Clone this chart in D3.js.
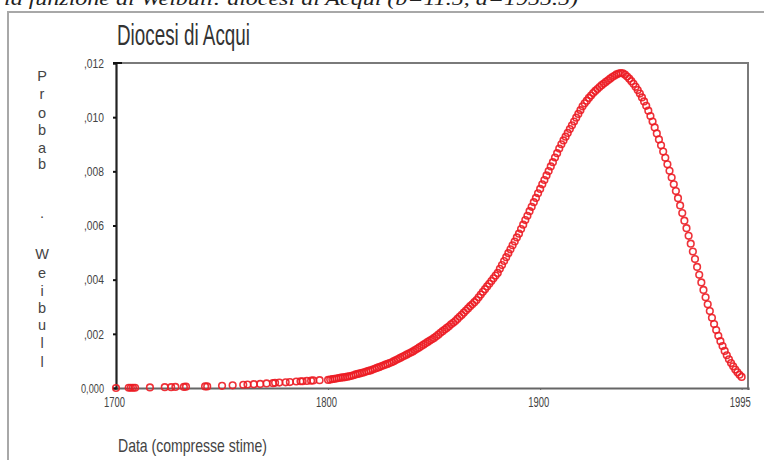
<!DOCTYPE html>
<html><head><meta charset="utf-8">
<script src="https://cdn.jsdelivr.net/npm/d3@7"></script>
<style>
html,body{margin:0;padding:0;background:#fff;}
svg{display:block;}
</style></head>
<body>
<script>
// ---- data ----
const chartTitle = "Diocesi di Acqui";
const caption = "la funzione di Weibull: diocesi di Acqui (b=11.5, a=1955.5)";
const xTitle = "Data (compresse stime)";
const yTitle = "Probab.Weibull";
const xTickValues = [1700, 1800, 1900, 1995];
const xTickLabels = ["1700", "1800", "1900", "1995"];
const yTickValues = [0, 0.002, 0.004, 0.006, 0.008, 0.010, 0.012];
const yTickLabels = ["0,000", ",002", ",004", ",006", ",008", ",010", ",012"];

const earlyYears = [1700,1706,1707,1708,1709,1716,1723,1726,1728,1732,1733,1742,1743,1750,1755,1760,1762,1765,1768,1771,1774,1775,1777,1780,1782,1785,1787,1788,1790,1792,1793,1796];
const earlyValues = [0.00000,0.00001,0.00001,0.00001,0.00001,0.00002,0.00003,0.00003,0.00004,0.00004,0.00005,0.00006,0.00006,0.00008,0.00010,0.00012,0.00013,0.00014,0.00015,0.00017,0.00018,0.00019,0.00020,0.00021,0.00022,0.00024,0.00025,0.00025,0.00026,0.00027,0.00028,0.00029];

// yearly values 1800..1995
const firstYear = 1800;
const yearlyValues = [
 0.00030,0.00031,0.00033,0.00034,0.00035,0.00037,0.00038,0.00039,0.00040,0.00042,
 0.00043,0.00045,0.00047,0.00050,0.00052,0.00054,0.00056,0.00058,0.00061,0.00063,
 0.00065,0.00068,0.00071,0.00074,0.00077,0.00080,0.00083,0.00086,0.00089,0.00092,
 0.00095,0.00099,0.00103,0.00107,0.00111,0.00115,0.00119,0.00123,0.00127,0.00131,
 0.00135,0.00140,0.00145,0.00150,0.00155,0.00160,0.00165,0.00170,0.00175,0.00180,
 0.00185,0.00191,0.00197,0.00204,0.00210,0.00216,0.00222,0.00228,0.00235,0.00241,
 0.00247,0.00255,0.00263,0.00270,0.00278,0.00286,0.00294,0.00302,0.00309,0.00317,
 0.00325,0.00335,0.00345,0.00355,0.00365,0.00375,0.00385,0.00395,0.00405,0.00415,
 0.00425,0.00440,0.00454,0.00469,0.00483,0.00498,0.00512,0.00527,0.00541,0.00556,
 0.00570,0.00587,0.00603,0.00620,0.00636,0.00653,0.00669,0.00686,0.00702,0.00719,
 0.00735,0.00752,0.00768,0.00785,0.00801,0.00818,0.00834,0.00851,0.00867,0.00884,
 0.00900,0.00914,0.00928,0.00942,0.00956,0.00970,0.00984,0.00998,0.01012,0.01026,
 0.01040,0.01051,0.01061,0.01071,0.01080,0.01089,0.01097,0.01104,0.01111,0.01118,
 0.01124,0.01130,0.01136,0.01142,0.01148,0.01153,0.01158,0.01161,0.01163,0.01162,
 0.01157,0.01150,0.01142,0.01133,0.01123,0.01112,0.01100,0.01087,0.01073,0.01058,
 0.01042,0.01024,0.01004,0.00984,0.00962,0.00940,0.00918,0.00896,0.00873,0.00850,
 0.00826,0.00802,0.00777,0.00752,0.00727,0.00701,0.00674,0.00646,0.00618,0.00590,
 0.00562,0.00533,0.00504,0.00476,0.00447,0.00418,0.00390,0.00362,0.00335,0.00309,
 0.00284,0.00259,0.00236,0.00214,0.00193,0.00173,0.00155,0.00137,0.00121,0.00106,
 0.00092,0.00080,0.00068,0.00058,0.00049,0.00041
];

const points = earlyYears.map((yr,i)=>({year:yr, value:earlyValues[i]}))
  .concat(yearlyValues.map((v,i)=>({year:firstYear+i, value:v})));

// ---- drawing ----
const W = 764, H = 460;
const svg = d3.select("body").append("svg").attr("width", W).attr("height", H);
const narrow = "'Liberation Sans Narrow','Liberation Sans',Arial,sans-serif";

const x = d3.scaleLinear().domain([1700, 1998]).range([116, 748]);
const y = d3.scaleLinear().domain([0, 0.012]).range([388, 63]);

// caption (cut off at top)
svg.append("text").attr("x", 4).attr("y", 5)
  .attr("font-family", "'Liberation Serif','Times New Roman',serif")
  .attr("font-style", "italic").attr("font-size", 19).attr("fill", "#222")
  .attr("textLength", 574).attr("lengthAdjust", "spacingAndGlyphs")
  .text(caption);

// outer frame
svg.append("path").attr("d", `M8,${H} V12 H${W}`)
  .attr("fill", "none").attr("stroke", "#a8a8a8").attr("stroke-width", 2);

// title
svg.append("text").attr("x", 117).attr("y", 45)
  .attr("font-family", narrow).attr("font-size", 29).attr("fill", "#333")
  .attr("textLength", 133).attr("lengthAdjust", "spacingAndGlyphs")
  .text(chartTitle);

// plot frame: top and right
svg.append("path").attr("d", `M${x(1700)},${y(0.012)} H${x(1998)} V${y(0)}`)
  .attr("fill", "none").attr("stroke", "#7a7a7a").attr("stroke-width", 2);

// x axis
const xAxis = svg.append("g").attr("transform", `translate(0,${y(0)})`)
  .call(d3.axisBottom(x).tickValues(xTickValues).tickSize(2)
    .tickFormat((d,i)=>xTickLabels[i]));
xAxis.select(".domain").attr("stroke", "#666").attr("stroke-width", 2.2);
xAxis.selectAll(".tick line").attr("stroke", "#666");
xAxis.selectAll(".tick text")
  .attr("font-family", narrow).attr("font-size", 14).attr("fill", "#444")
  .attr("y", 9).attr("dx", -2)
  .attr("textLength", 21).attr("lengthAdjust", "spacingAndGlyphs");

// y axis
const yAxis = svg.append("g").attr("transform", `translate(${x(1700)},0)`)
  .call(d3.axisLeft(y).tickValues(yTickValues).tickSize(3)
    .tickFormat((d,i)=>yTickLabels[i]));
yAxis.select(".domain").attr("stroke", "#222").attr("stroke-width", 2.2);
yAxis.selectAll(".tick line").attr("stroke", "#111").attr("stroke-width", 2);
yAxis.selectAll(".tick text")
  .attr("font-family", narrow).attr("font-size", 13).attr("fill", "#444")
  .attr("x", -12)
  .each(function(d,i){
    const t = yTickLabels[i];
    d3.select(this).attr("textLength", t.length === 5 ? 23 : 20).attr("lengthAdjust", "spacingAndGlyphs");
  });
// top tick extends inward
svg.append("line").attr("x1", x(1700)-3).attr("x2", x(1700)+6)
  .attr("y1", y(0.012)).attr("y2", y(0.012)).attr("stroke", "#111").attr("stroke-width", 2);

// y title (vertical stacked letters)
const yLetterPos = [75,93,112,129,147,163,212,253,272,290,307,324,342,361];
const yChars = yTitle.split("");
svg.append("g").selectAll("text").data(yChars).join("text")
  .attr("x", 42).attr("y", (d,i)=>yLetterPos[i] + 6)
  .attr("text-anchor", "middle")
  .attr("font-family", narrow).attr("font-size", 14.5).attr("fill", "#444")
  .text(d=>d);

// x title
svg.append("text").attr("x", 118).attr("y", 452)
  .attr("font-family", narrow).attr("font-size", 19).attr("fill", "#444")
  .attr("textLength", 149).attr("lengthAdjust", "spacingAndGlyphs")
  .text(xTitle);

// points
svg.append("g").selectAll("circle").data(points).join("circle")
  .attr("cx", d=>x(d.year)).attr("cy", d=>y(d.value)).attr("r", 3.3)
  .attr("fill", "none").attr("stroke", "#ec1c24").attr("stroke-width", 1.6)
  .attr("stroke-opacity", 0.9);
</script>
</body></html>
